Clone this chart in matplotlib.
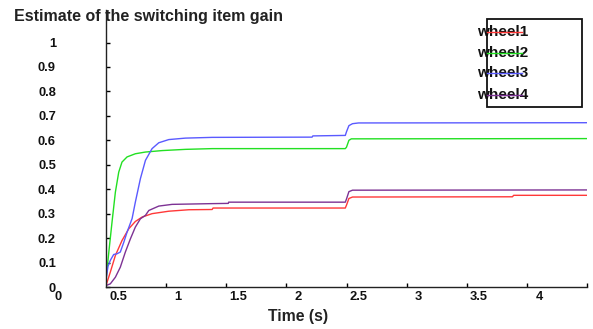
import numpy as np
import matplotlib
matplotlib.use("Agg")
import matplotlib.pyplot as plt
import matplotlib.transforms as mtransforms

plt.rcParams['font.family'] = ['Liberation Sans', 'DejaVu Sans']
plt.rcParams['font.weight'] = 'bold'

# --- data ---
labels = ['wheel1', 'wheel2', 'wheel3', 'wheel4']
colors = ['#ff3838', '#22e022', '#5a5aff', '#7d3294']

t1 = [0.5, 0.536, 0.578, 0.633, 0.689, 0.744, 0.8, 0.883, 1.022, 1.189, 1.383, 1.39,
      2.49, 2.5, 2.52, 2.55, 3.88, 3.89, 4.5]
y1 = [0.006, 0.061, 0.129, 0.190, 0.238, 0.268, 0.286, 0.300, 0.310, 0.316, 0.317, 0.323,
      0.323, 0.335, 0.362, 0.368, 0.369, 0.375, 0.375]

t2 = [0.5, 0.525, 0.55, 0.578, 0.606, 0.633, 0.675, 0.744, 0.828, 0.967, 1.161, 1.383,
      2.49, 2.5, 2.52, 2.54, 4.5]
y2 = [0.03, 0.15, 0.265, 0.388, 0.470, 0.511, 0.532, 0.545, 0.552, 0.558, 0.563, 0.566,
      0.566, 0.572, 0.600, 0.606, 0.607]

t3 = [0.5, 0.517, 0.536, 0.564, 0.592, 0.619, 0.648, 0.675, 0.717, 0.744, 0.786, 0.828,
      0.883, 0.939, 1.022, 1.161, 1.383, 2.214, 2.22, 2.49, 2.5, 2.52, 2.55, 2.6, 4.5]
y3 = [0.03, 0.085, 0.109, 0.133, 0.136, 0.143, 0.183, 0.224, 0.28, 0.347, 0.443, 0.518,
      0.566, 0.590, 0.603, 0.609, 0.612, 0.613, 0.618, 0.620, 0.635, 0.660, 0.668, 0.671, 0.672]

t4 = [0.5, 0.536, 0.578, 0.619, 0.661, 0.703, 0.744, 0.786, 0.828, 0.856, 0.939, 1.05,
      1.38, 1.517, 1.52, 2.49, 2.5, 2.52, 2.55, 4.5]
y4 = [0.006, 0.013, 0.040, 0.081, 0.143, 0.197, 0.245, 0.279, 0.293, 0.313, 0.331, 0.338,
      0.341, 0.342, 0.347, 0.347, 0.36, 0.39, 0.396, 0.397]

series = [(t1, y1), (t2, y2), (t3, y3), (t4, y4)]

xtick_marks = [1, 1.5, 2, 2.5, 3, 3.5, 4, 4.5]
xtick_vals = [0, 0.5, 1, 1.5, 2, 2.5, 3, 3.5, 4]
xtick_text = ['0', '0.5', '1', '1.5', '2', '2.5', '3', '3.5', '4']
ytick_vals = [0, 0.1, 0.2, 0.3, 0.4, 0.5, 0.6, 0.7, 0.8, 0.9, 1]
ytick_text = ['0', '0.1', '0.2', '0.3', '0.4', '0.5', '0.6', '0.7', '0.8', '0.9', '1']

fig = plt.figure(figsize=(5.93, 3.29), dpi=100)
ax = fig.add_axes([106/593, 42/329, 481/593, 277/329])

for (t, y), c in zip(series, colors):
    ax.plot(t, y, color=c, lw=1.0)

ax.set_xlim(0.5, 4.5)
ax.set_ylim(0, 1.133)
for s in ['top', 'right']:
    ax.spines[s].set_visible(False)
for s in ['left', 'bottom']:
    ax.spines[s].set_linewidth(1.0)
    ax.spines[s].set_color('#222222')

ax.set_yticks(ytick_vals)
ax.set_yticklabels(ytick_text, fontsize=9.3, fontweight='bold', color='#111111')
ax.tick_params(axis='y', direction='in', length=3, width=1, pad=36)
ax.set_xticks(xtick_marks)
ax.set_xticklabels([''] * len(xtick_marks))
ax.tick_params(axis='x', direction='in', length=3, width=1)

# x tick labels sit shifted right of their ticks, as in the reference
trans = mtransforms.blended_transform_factory(ax.transData, ax.transAxes)
trans = mtransforms.offset_copy(trans, fig=fig, x=12, y=-10, units='dots')
for v, s in zip(xtick_vals, xtick_text):
    ax.text(v, 0, s, transform=trans, ha='center', va='center', fontsize=9.3,
            fontweight='bold', color='#111111', clip_on=False)

ax.set_xlabel('Time (s)', fontsize=11.3, fontweight='bold', color='#222222')
ax.xaxis.set_label_coords(0.399, -0.108)
ax.xaxis.label.set_va('center')

fig.text(14/593, 1 - 17/329, 'Estimate of the switching item gain', ha='left', va='center',
         fontsize=11.5, fontweight='bold', color='#222222')

# legend box drawn by hand to copy the odd overlapping layout
box = plt.Rectangle((0.792, 0.650), 0.198, 0.318, transform=ax.transAxes, fill=False,
                    edgecolor='#111111', lw=1.3, clip_on=False)
ax.add_patch(box)
rows = [0.921, 0.845, 0.773, 0.693]
for lab, c, yy in zip(labels, colors, rows):
    ax.text(0.771, yy, lab, transform=ax.transAxes, ha='left', va='center', fontsize=11,
            fontweight='bold', color='#111111')
    ax.plot([0.792, 0.865], [yy, yy], transform=ax.transAxes, color=c, lw=1.0, zorder=5)

fig.savefig('out.png', dpi=100)
